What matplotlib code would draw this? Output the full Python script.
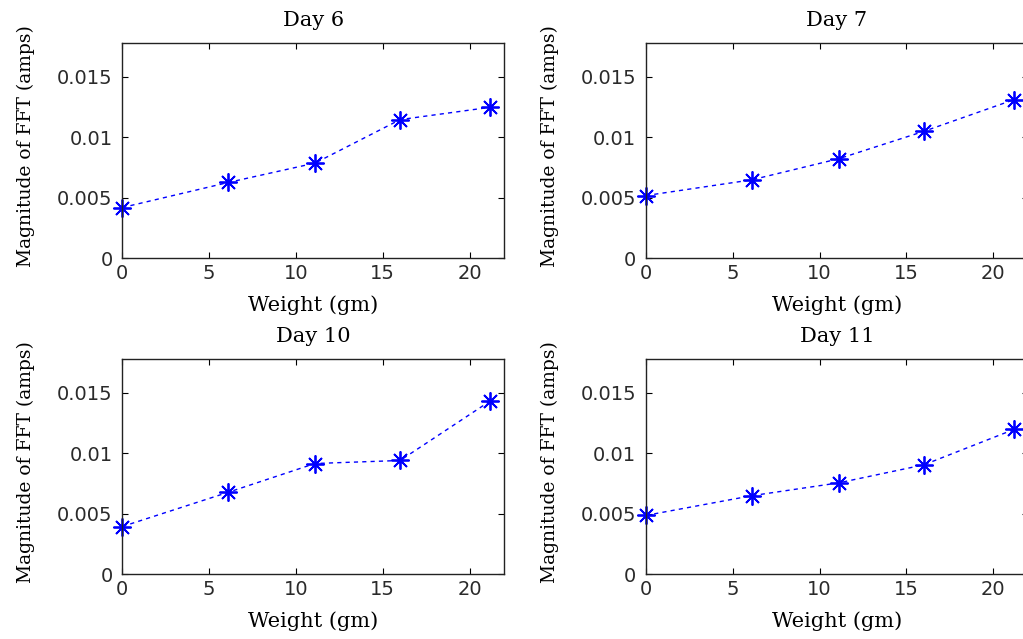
import matplotlib
matplotlib.use("Agg")
import matplotlib.pyplot as plt

weights = [0, 6.1, 11.1, 16, 21.2]
titles = ["Day 6", "Day 7", "Day 10", "Day 11"]
day6 = [0.00419, 0.00626, 0.00786, 0.01145, 0.01247]
day7 = [0.00518, 0.00648, 0.00822, 0.01048, 0.01310]
day10 = [0.00395, 0.00678, 0.00916, 0.00941, 0.01434]
day11 = [0.00487, 0.00650, 0.00756, 0.00905, 0.01198]
series = [day6, day7, day10, day11]
xticks = [0, 5, 10, 15, 20]
yticks = [0, 0.005, 0.01, 0.015]
yticklabels = ["0", "0.005", "0.01", "0.015"]

W, H = 1023, 639
fig = plt.figure(figsize=(W / 100, H / 100), dpi=100)

# axes boxes in pixel coordinates (left, top, right, bottom)
boxes = [(122.3, 42.7, 504.3, 258.3), (646.0, 42.7, 1028.0, 258.3),
         (122.3, 359.0, 504.3, 574.3), (646.0, 359.0, 1028.0, 574.3)]

serif = "DejaVu Serif"
sans = "DejaVu Sans"

for (l, t, r, b), title, vals in zip(boxes, titles, series):
    ax = fig.add_axes([l / W, 1 - b / H, (r - l) / W, (b - t) / H])
    ax.plot(weights, vals, linestyle=(0, (3, 3)), color="#0000ff", linewidth=1.0,
            marker=(8, 2, 0), markersize=13, markeredgewidth=1.3, clip_on=False)
    ax.set_xlim(0, 22)
    ax.set_ylim(0, 0.0178)
    ax.set_xticks(xticks)
    ax.set_xticklabels([str(x) for x in xticks])
    ax.set_yticks(yticks)
    ax.set_yticklabels(yticklabels)
    ax.tick_params(direction="in", length=4, width=0.8, top=True, right=True,
                   labelsize=14, colors="black")
    ax.tick_params(axis="x", pad=4)
    ax.tick_params(axis="y", pad=7)
    for lab in ax.get_xticklabels() + ax.get_yticklabels():
        lab.set_fontfamily(sans)
        lab.set_color("#2a2a2a")
    for sp in ax.spines.values():
        sp.set_linewidth(1.0)
        sp.set_color("#222222")
    ax.set_title(title, fontfamily=serif, fontsize=15, pad=12)
    ax.set_xlabel("Weight (gm)", fontfamily=serif, fontsize=15)
    ax.xaxis.set_label_coords(0.5, -0.17)
    ax.set_ylabel("Magnitude of FFT (amps)", fontfamily=serif, fontsize=13.5)
    ax.yaxis.set_label_coords(-0.228, 0.52)

fig.savefig("out.png", dpi=100)
